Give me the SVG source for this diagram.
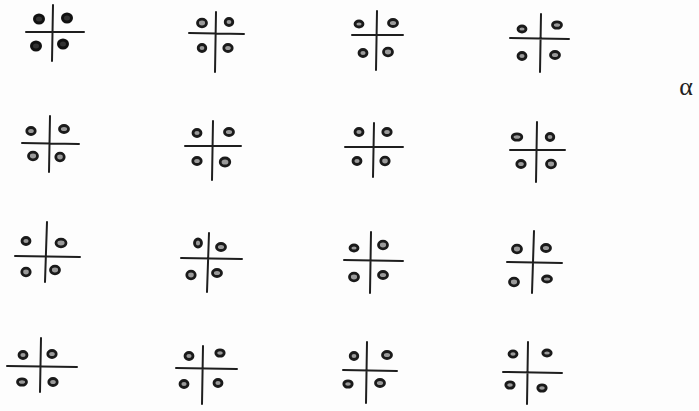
<svg xmlns="http://www.w3.org/2000/svg" width="699" height="411" viewBox="0 0 699 411">
<style>
.l{stroke:#1e1e1e;stroke-width:2;stroke-linecap:round;fill:none}
.c{stroke:#1a1a1a;stroke-width:2.8;fill:#9a9a9a}
.b{stroke:#111;stroke-width:3;fill:#333}
.t{font-family:"Liberation Serif",serif;font-size:26px;fill:#222}
</style>
<rect width="699" height="411" fill="#fdfdfd"/>
<g id="r1c1"><path class="l" d="M53 5 L52 61 M26 32 L84 32"/>
<ellipse class="b" cx="39" cy="19" rx="4.5" ry="4"/><ellipse class="b" cx="67" cy="18" rx="4.5" ry="4"/><ellipse class="b" cx="36" cy="46" rx="4.5" ry="4"/><ellipse class="b" cx="63" cy="44" rx="4.5" ry="4"/></g>
<g id="r1c2"><path class="l" d="M216 12 L215 72 M189 33 L244 34"/>
<ellipse class="c" cx="202" cy="23" rx="4.5" ry="3.8"/><ellipse class="c" cx="229" cy="22" rx="3.8" ry="3.5"/><ellipse class="c" cx="202" cy="48" rx="3.8" ry="3.5"/><ellipse class="c" cx="228" cy="48" rx="4.2" ry="3.5"/></g>
<g id="r1c3"><path class="l" d="M377 11 L376 70 M352 35 L403 35"/>
<ellipse class="c" cx="359" cy="24" rx="4" ry="3"/><ellipse class="c" cx="393" cy="23" rx="4.5" ry="3.5"/><ellipse class="c" cx="363" cy="53" rx="4" ry="3.5"/><ellipse class="c" cx="388" cy="52" rx="4.5" ry="3.8"/></g>
<g id="r1c4"><path class="l" d="M541 14 L540 72 M510 38 L569 39"/>
<ellipse class="c" cx="522" cy="29" rx="4" ry="3"/><ellipse class="c" cx="557" cy="25" rx="4.5" ry="3.2"/><ellipse class="c" cx="522" cy="56" rx="4" ry="3.5"/><ellipse class="c" cx="555" cy="55" rx="4.5" ry="3.5"/></g>
<text class="t" x="686" y="95" text-anchor="middle">α</text>
<g id="r2c1"><path class="l" d="M50 116 L49 172 M22 143 L79 144"/>
<ellipse class="c" cx="31" cy="131" rx="4.2" ry="3.5"/><ellipse class="c" cx="64" cy="129" rx="4.5" ry="3.5"/><ellipse class="c" cx="33" cy="156" rx="4.5" ry="3.8"/><ellipse class="c" cx="60" cy="157" rx="4.2" ry="3.8"/></g>
<g id="r2c2"><path class="l" d="M213 121 L212 180 M185 146 L241 146"/>
<ellipse class="c" cx="197" cy="133" rx="4" ry="3.5"/><ellipse class="c" cx="229" cy="132" rx="4.5" ry="3.5"/><ellipse class="c" cx="197" cy="161" rx="4.2" ry="3.5"/><ellipse class="c" cx="225" cy="162" rx="4.8" ry="4"/></g>
<g id="r2c3"><path class="l" d="M374 123 L373 177 M345 147 L403 147"/>
<ellipse class="c" cx="359" cy="132" rx="4" ry="3.5"/><ellipse class="c" cx="387" cy="132" rx="4.2" ry="3.5"/><ellipse class="c" cx="357" cy="161" rx="4" ry="3.5"/><ellipse class="c" cx="385" cy="161" rx="4.2" ry="3.8"/></g>
<g id="r2c4"><path class="l" d="M537 122 L536 182 M510 150 L565 150"/>
<ellipse class="c" cx="517" cy="137" rx="4.8" ry="3.2"/><ellipse class="c" cx="550" cy="137" rx="3.8" ry="3.5"/><ellipse class="c" cx="521" cy="164" rx="4.2" ry="3.5"/><ellipse class="c" cx="551" cy="164" rx="4.5" ry="3.8"/></g>
<g id="r3c1"><path class="l" d="M47 222 L45 282 M15 256 L80 257"/>
<ellipse class="c" cx="26" cy="241" rx="4" ry="3.5"/><ellipse class="c" cx="61" cy="243" rx="5" ry="3.8"/><ellipse class="c" cx="26" cy="272" rx="4.2" ry="3.8"/><ellipse class="c" cx="55" cy="270" rx="4.5" ry="3.8"/></g>
<g id="r3c2"><path class="l" d="M209 233 L207 292 M181 258 L242 259"/>
<ellipse class="c" cx="198" cy="243" rx="3.5" ry="4"/><ellipse class="c" cx="221" cy="247" rx="4.5" ry="3.5"/><ellipse class="c" cx="191" cy="275" rx="4.2" ry="3.8"/><ellipse class="c" cx="217" cy="273" rx="4.5" ry="3.5"/></g>
<g id="r3c3"><path class="l" d="M371 232 L370 293 M344 260 L403 261"/>
<ellipse class="c" cx="354" cy="248" rx="4" ry="3"/><ellipse class="c" cx="383" cy="245" rx="4.5" ry="3.8"/><ellipse class="c" cx="354" cy="277" rx="4.5" ry="3.8"/><ellipse class="c" cx="383" cy="275" rx="4.5" ry="3.5"/></g>
<g id="r3c4"><path class="l" d="M534 231 L532 293 M507 262 L562 263"/>
<ellipse class="c" cx="517" cy="249" rx="4.5" ry="3.8"/><ellipse class="c" cx="546" cy="248" rx="4.5" ry="3.5"/><ellipse class="c" cx="514" cy="282" rx="4.5" ry="3.8"/><ellipse class="c" cx="547" cy="279" rx="4.5" ry="3"/></g>
<g id="r4c1"><path class="l" d="M41 338 L40 392 M7 366 L77 367"/>
<ellipse class="c" cx="23" cy="355" rx="4" ry="3.5"/><ellipse class="c" cx="52" cy="354" rx="4.2" ry="3.5"/><ellipse class="c" cx="22" cy="382" rx="4.5" ry="3.2"/><ellipse class="c" cx="53" cy="382" rx="4.2" ry="3.5"/></g>
<g id="r4c2"><path class="l" d="M203 346 L202 404 M176 368 L237 369"/>
<ellipse class="c" cx="189" cy="356" rx="4" ry="3.5"/><ellipse class="c" cx="220" cy="353" rx="4.2" ry="3.2"/><ellipse class="c" cx="184" cy="384" rx="4" ry="3.5"/><ellipse class="c" cx="218" cy="383" rx="4" ry="3.5"/></g>
<g id="r4c3"><path class="l" d="M367 342 L366 403 M343 370 L397 371"/>
<ellipse class="c" cx="354" cy="356" rx="3.8" ry="3.5"/><ellipse class="c" cx="387" cy="355" rx="4.5" ry="3.5"/><ellipse class="c" cx="348" cy="384" rx="4.2" ry="3.2"/><ellipse class="c" cx="380" cy="383" rx="4.5" ry="3.5"/></g>
<g id="r4c4"><path class="l" d="M528 342 L527 404 M503 372 L562 373"/>
<ellipse class="c" cx="513" cy="354" rx="4" ry="3.2"/><ellipse class="c" cx="547" cy="353" rx="4.2" ry="3"/><ellipse class="c" cx="510" cy="385" rx="4.2" ry="3.2"/><ellipse class="c" cx="542" cy="388" rx="4.2" ry="3.2"/></g>
</svg>
